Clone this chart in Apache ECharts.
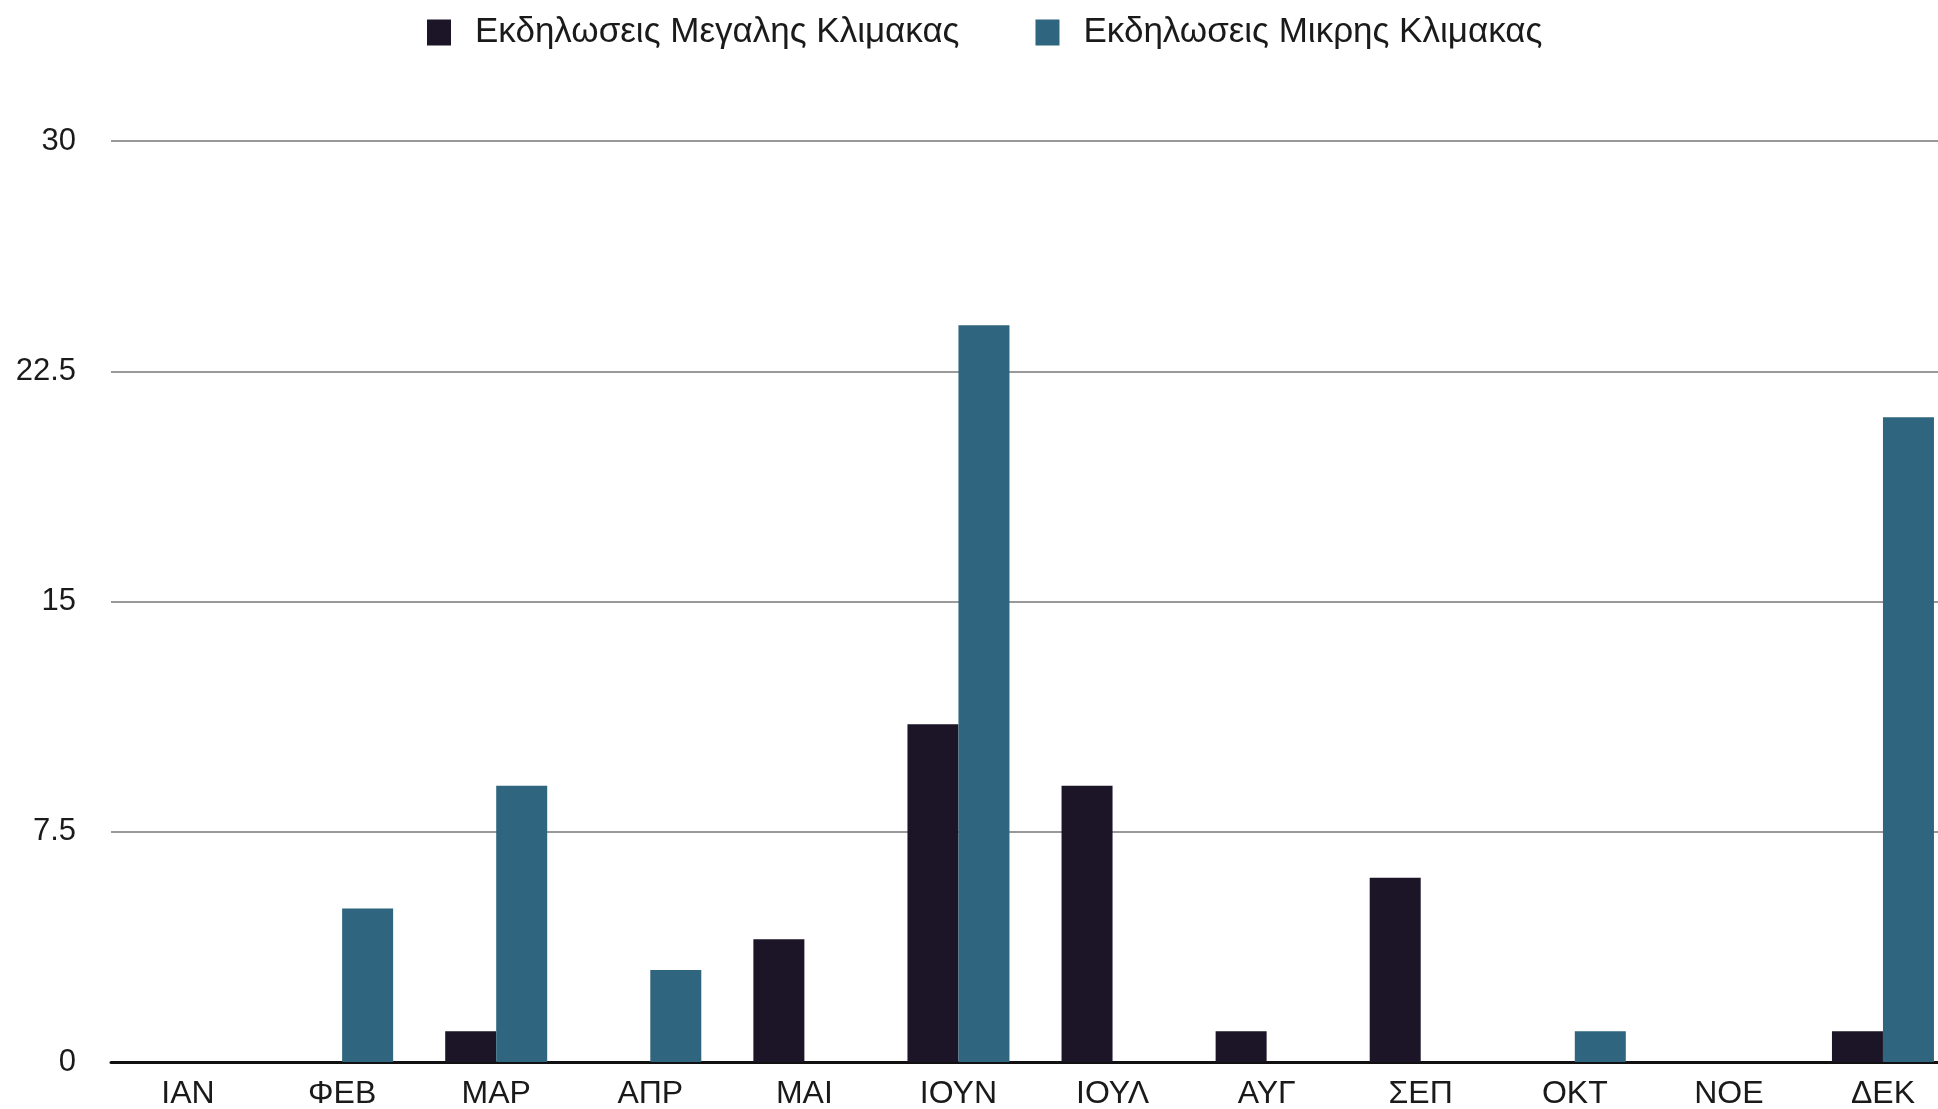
<!DOCTYPE html>
<html>
<head>
<meta charset="utf-8">
<script src="https://cdn.jsdelivr.net/npm/echarts@6/dist/echarts.min.js"></script>
<style>
html,body{margin:0;padding:0;background:#fff;}
#chart{width:1938px;height:1109px;}
</style>
</head>
<body>
<div id="chart"></div>
<script>
const categories = ["ΙΑΝ","ΦΕΒ","ΜΑΡ","ΑΠΡ","ΜΑΙ","ΙΟΥΝ","ΙΟΥΛ","ΑΥΓ","ΣΕΠ","ΟΚΤ","ΝΟΕ","ΔΕΚ"];
const seriesNames = ["Εκδηλωσεις Μεγαλης Κλιμακας","Εκδηλωσεις Μικρης Κλιμακας"];
const largeEvents = [0,0,1,0,4,11,9,1,6,0,0,1];
const smallEvents = [0,5,9,3,0,24,0,0,0,1,0,21];
const yMin = 0, yMax = 30, yInterval = 7.5;

const chart = echarts.init(document.getElementById('chart'));
const font = '"Liberation Sans", Arial, sans-serif';
chart.setOption({
  animation: false,
  color: ['#1c1427', '#2f657e'],
  legend: {
    top: 10,
    left: 422,
    itemWidth: 24,
    itemHeight: 26,
    itemGap: 76,
    icon: 'rect',
    textStyle: { fontFamily: font, fontSize: 35, color: '#1a1a1a', padding: [0,0,0,19] },
    data: seriesNames
  },
  grid: { left: 111, width: 1849, top: 141, bottom: 47, containLabel: false, outerBoundsMode: 'none' },
  xAxis: {
    type: 'category',
    data: categories,
    axisLine: { show: true, lineStyle: { color: '#111', width: 3 } },
    axisTick: { show: false },
    axisLabel: { fontFamily: font, fontSize: 32, color: '#1a1a1a', margin: 16 }
  },
  yAxis: {
    type: 'value',
    min: yMin, max: yMax, interval: yInterval,
    axisLine: { show: false },
    axisTick: { show: false },
    splitLine: { lineStyle: { color: '#999', width: 2 } },
    axisLabel: { fontFamily: font, fontSize: 31, color: '#1a1a1a', margin: 35 }
  },
  series: [
    { name: seriesNames[0], type: 'bar', data: largeEvents, barWidth: 51, barGap: '0%' },
    { name: seriesNames[1], type: 'bar', data: smallEvents, barWidth: 51, barGap: '0%' }
  ]
});
</script>
</body>
</html>
